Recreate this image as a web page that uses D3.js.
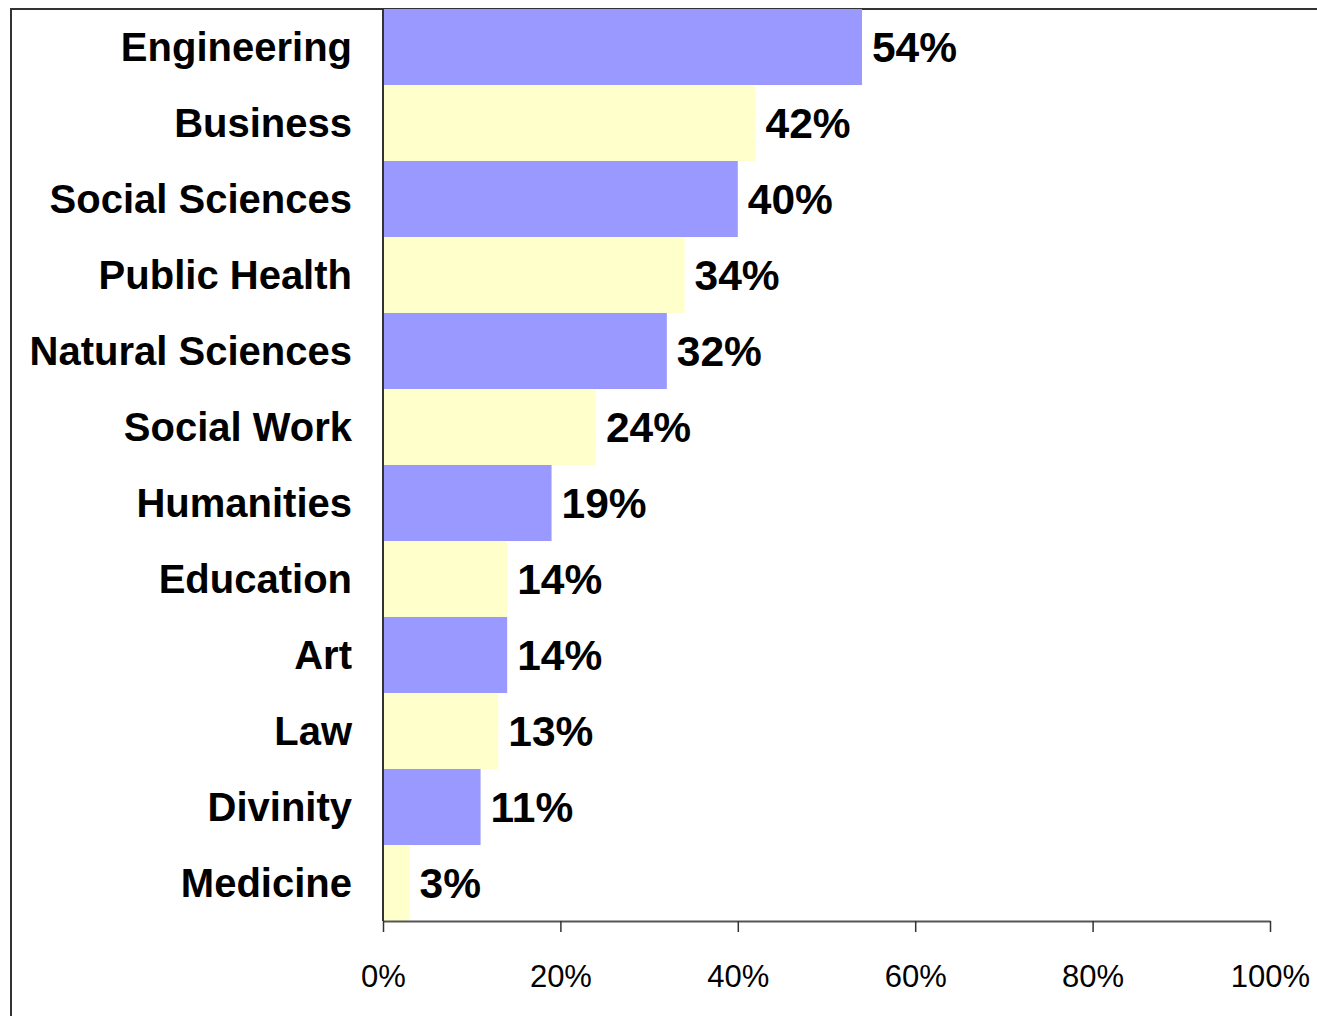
<!DOCTYPE html>
<html><head><meta charset="utf-8">
<script src="https://cdn.jsdelivr.net/npm/d3@7"></script>
<style>body{margin:0;background:#fff}svg{display:block}text{font-family:Arial,"Liberation Sans",sans-serif}</style>
</head><body>
<svg id="c" width="1317" height="1016"></svg>
<script>
const categories = ["Engineering","Business","Social Sciences","Public Health","Natural Sciences","Social Work","Humanities","Education","Art","Law","Divinity","Medicine"];
const values = [54,42,40,34,32,24,19,14,14,13,11,3];
const tickValues = [0,20,40,60,80,100];
const barColors = ["#9999FF","#FFFFCC"];

(function(){
const svg = d3.select("#c");
const pLeft = 383, pRight = 1270, pTop = 9, pBottom = 921;
const x = d3.scaleLinear().domain([0,100]).range([pLeft,pRight]);
const y = d3.scaleBand().domain(categories).range([pTop,pBottom]).padding(0);

// frame
svg.append("rect").attr("x",11).attr("y",9).attr("width",1320).attr("height",1020)
  .attr("fill","none").attr("stroke","#333").attr("stroke-width",2);

svg.selectAll("rect.bar").data(categories).enter().append("rect")
  .attr("class","bar")
  .attr("x",x(0)).attr("y",d=>y(d))
  .attr("width",(d,i)=>x(values[i])-x(0)).attr("height",y.bandwidth())
  .attr("fill",(d,i)=>barColors[i%2]);

// x axis
const xa = svg.append("g").attr("transform",`translate(0,${pBottom})`)
  .call(d3.axisBottom(x).tickValues(tickValues).tickSize(11).tickSizeOuter(0).tickFormat(d=>d+"%"));
xa.select(".domain").attr("stroke","#555").attr("stroke-width",2);
xa.selectAll(".tick line").attr("stroke","#333").attr("stroke-width",1.5);
xa.selectAll(".tick text").attr("font-size",31).attr("fill","#000").attr("y",0).attr("dy",0)
  .attr("transform","translate(0,66)");

// y axis line
svg.append("line").attr("x1",pLeft).attr("x2",pLeft).attr("y1",pTop).attr("y2",pBottom)
  .attr("stroke","#333").attr("stroke-width",2);

// category labels
svg.selectAll("text.cat").data(categories).enter().append("text")
  .attr("class","cat").attr("x",352).attr("y",d=>y(d)+y.bandwidth()/2)
  .attr("dy","0.355em").attr("text-anchor","end").attr("font-weight","bold").attr("font-size",40)
  .attr("fill","#000").text(d=>d);

// value labels
svg.selectAll("text.val").data(categories).enter().append("text")
  .attr("class","val").attr("x",(d,i)=>x(values[i])+10).attr("y",d=>y(d)+y.bandwidth()/2)
  .attr("dy","0.355em").attr("font-weight","bold").attr("font-size",42.5)
  .attr("fill","#000").text((d,i)=>values[i]+"%");
})();
</script>
</body></html>
